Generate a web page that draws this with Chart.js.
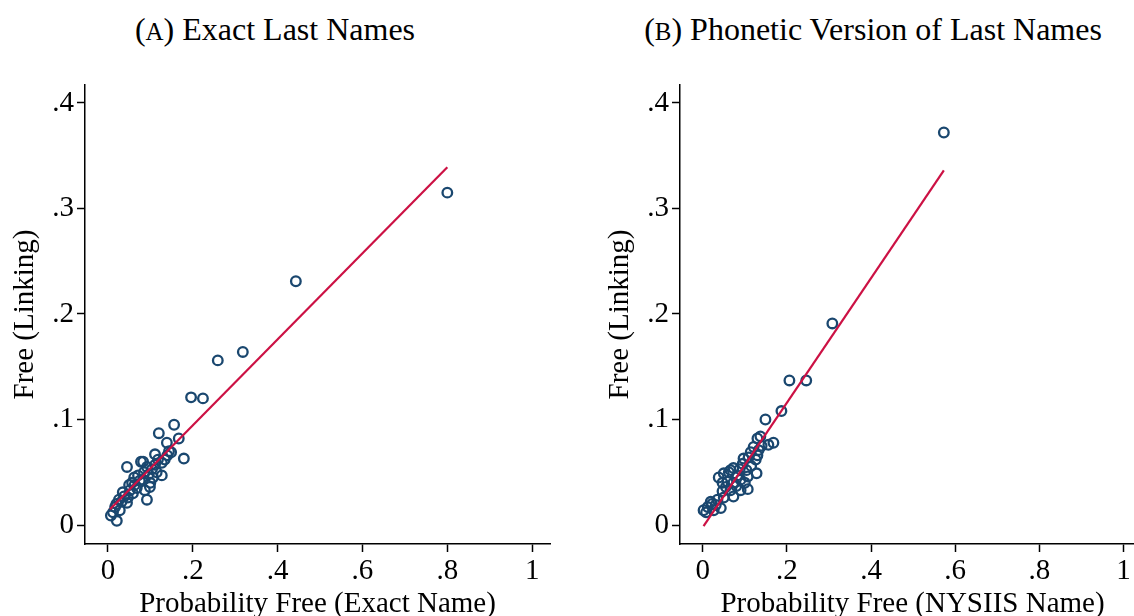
<!DOCTYPE html>
<html lang="en">
<head>
    <meta charset="UTF-8">
    <title>Free vs Probability Free</title>
    <script src="https://cdn.jsdelivr.net/npm/chart.js"></script>
    <style>
        body { margin: 0; background: #fff; overflow: hidden; width: 1134px; height: 616px; position: relative; }
        .panel { position: absolute; top: 0; width: 567px; height: 626px; }
        .ttl { position: absolute; top: 11px; font-family: 'Liberation Serif', serif; font-size: 32px; color: #000; white-space: nowrap; transform: translateX(-50%); }
        .sc { font-size: 0.78em; }
    </style>
</head>
<body>
    <div class="ttl" style="left:275px">(<span class="sc">A</span>) Exact Last Names</div>
    <div class="ttl" style="left:873px">(<span class="sc">B</span>) Phonetic Version of Last Names</div>
    <div class="panel" style="left:0"><canvas id="exactChart" width="567" height="626"></canvas></div>
    <div class="panel" style="left:595px"><canvas id="nysiisChart" width="567" height="626"></canvas></div>
    <script>
        // panel A: exact last names
        const exactProb = [0.800, 0.443, 0.318, 0.259, 0.224, 0.196, 0.179, 0.167, 0.156, 0.120,
            0.139, 0.149, 0.111, 0.134, 0.078, 0.083, 0.045, 0.111, 0.092, 0.127,
            0.071, 0.106, 0.057, 0.083, 0.099, 0.068, 0.035, 0.092, 0.047, 0.026,
            0.017, 0.007, 0.021, 0.028, 0.045, 0.059, 0.087, 0.115, 0.127, 0.144,
            0.140, 0.012, 0.020, 0.038, 0.052, 0.063, 0.075, 0.096, 0.104, 0.118,
            0.062, 0.050, 0.032, 0.100, 0.085];
        const exactFree = [0.315, 0.231, 0.164, 0.156, 0.120, 0.121, 0.063, 0.082, 0.095, 0.087,
            0.078, 0.069, 0.067, 0.062, 0.060, 0.060, 0.055, 0.057, 0.055, 0.047,
            0.047, 0.045, 0.040, 0.043, 0.036, 0.035, 0.031, 0.024, 0.026, 0.024,
            0.017, 0.009, 0.004, 0.014, 0.021, 0.030, 0.033, 0.050, 0.059, 0.070,
            0.066, 0.012, 0.020, 0.027, 0.033, 0.038, 0.042, 0.048, 0.053, 0.062,
            0.045, 0.038, 0.022, 0.040, 0.050];
        const exactFitX = [0.005, 0.800];
        const exactFitY = [0.015, 0.339];

        // panel B: NYSIIS phonetic names
        const nysiisProb = [0.573, 0.308, 0.246, 0.206, 0.187, 0.149, 0.137, 0.130, 0.168, 0.156,
            0.121, 0.114, 0.133, 0.097, 0.126, 0.073, 0.130, 0.109, 0.066, 0.088,
            0.128, 0.050, 0.107, 0.090, 0.059, 0.047, 0.073, 0.107, 0.090, 0.066,
            0.047, 0.050, 0.019, 0.031, 0.043, 0.012, 0.002, 0.026, 0.073, 0.038,
            0.062, 0.080, 0.100, 0.115, 0.095, 0.140, 0.022, 0.008, 0.035, 0.055,
            0.082, 0.104];
        const nysiisFree = [0.372, 0.191, 0.137, 0.137, 0.108, 0.100, 0.084, 0.082, 0.078, 0.076,
            0.074, 0.069, 0.071, 0.063, 0.062, 0.054, 0.066, 0.064, 0.052, 0.053,
            0.049, 0.049, 0.046, 0.043, 0.041, 0.040, 0.040, 0.034, 0.033, 0.033,
            0.032, 0.026, 0.022, 0.019, 0.016, 0.017, 0.014, 0.014, 0.027, 0.045,
            0.050, 0.037, 0.040, 0.056, 0.058, 0.075, 0.020, 0.012, 0.024, 0.036,
            0.047, 0.052];
        const nysiisFitX = [0.002, 0.573];
        const nysiisFitY = [-0.001, 0.336];

        const xTicks = [0, 0.2, 0.4, 0.6, 0.8, 1];
        const yTicks = [0, 0.1, 0.2, 0.3, 0.4];

        const navy = '#1a476f';
        const red = '#cc1144';
        const font = { family: 'Liberation Serif', size: 29 };

        // Stata style labels: .2 instead of 0.2
        function fmt(v) {
            if (v === 0 || v === 1) return String(v);
            return String(Math.round(v * 10) / 10).replace(/^0/, '');
        }

        function pairs(xs, ys) {
            return xs.map((x, i) => ({ x: x, y: ys[i] }));
        }

        function makeChart(id, xs, ys, fx, fy, xTitle, xMax) {
            const axisBits = {
                border: { display: true, color: '#000', width: 1.5 },
                grid: { drawOnChartArea: false, drawTicks: true, tickLength: 8, tickColor: '#000', tickWidth: 1.5 },
            };
            return new Chart(document.getElementById(id), {
                type: 'scatter',
                data: {
                    datasets: [{
                        type: 'line',
                        data: pairs(fx, fy),
                        borderColor: red,
                        borderWidth: 2.2,
                        pointRadius: 0,
                        fill: false
                    }, {
                        data: pairs(xs, ys),
                        pointStyle: 'circle',
                        pointRadius: 4.8,
                        pointBorderWidth: 2.3,
                        pointBorderColor: navy,
                        pointBackgroundColor: 'rgba(0,0,0,0)'
                    }]
                },
                options: {
                    responsive: false,
                    animation: false,
                    layout: { padding: { left: 0, right: 17, top: 85, bottom: 0 } },
                    plugins: { legend: { display: false }, tooltip: { enabled: false } },
                    scales: {
                        x: Object.assign({
                            type: 'linear', min: -0.054, max: xMax,
                            afterBuildTicks: s => { s.ticks = xTicks.map(v => ({ value: v })); },
                            afterFit: s => { s.height = 82; },
                            ticks: { font: font, color: '#000', padding: 2, maxRotation: 0, callback: v => fmt(v) },
                            title: { display: true, text: xTitle, font: font, color: '#000', padding: { top: 0, bottom: 4 } }
                        }, axisBits),
                        y: Object.assign({
                            type: 'linear', min: -0.018, max: 0.417,
                            afterBuildTicks: s => { s.ticks = yTicks.map(v => ({ value: v })); },
                            afterFit: s => { s.width = 85; },
                            ticks: { font: font, color: '#000', padding: 3, callback: v => fmt(v) },
                            title: { display: true, text: 'Free (Linking)', font: font, color: '#000', padding: { top: 8, bottom: 0 } }
                        }, axisBits)
                    }
                }
            });
        }

        makeChart('exactChart', exactProb, exactFree, exactFitX, exactFitY, 'Probability Free (Exact Name)', 1.042);
        makeChart('nysiisChart', nysiisProb, nysiisFree, nysiisFitX, nysiisFitY, 'Probability Free (NYSIIS Name)', 1.051);
    </script>
</body>
</html>
